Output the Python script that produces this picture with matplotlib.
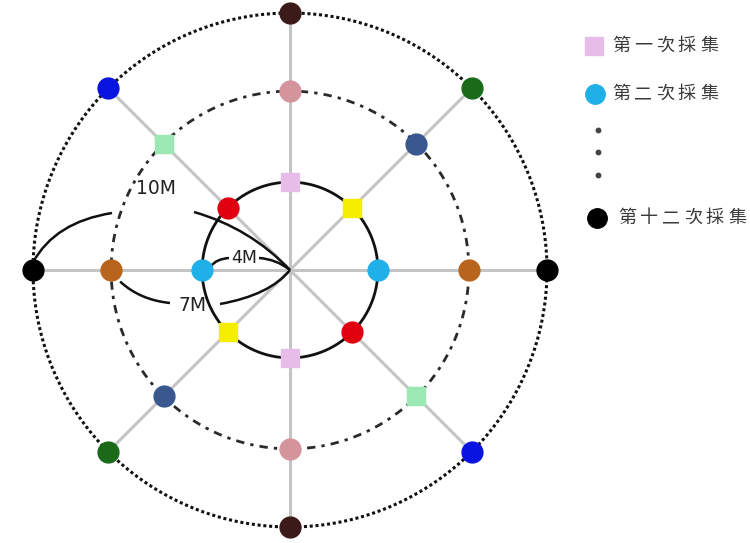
import numpy as np
import matplotlib.pyplot as plt
from matplotlib.path import Path
from matplotlib.patches import PathPatch

# ---- data ----
spoke_angles = [0, 45, 90, 135, 180, 225, 270, 315]
ring_labels = ['4M', '7M', '10M']
ring_radius = [3.42, 6.96, 10.0]          # drawn radii (outer ring = 10)
ring_styles = ['solid', 'dashdot', 'dotted']
# colour of the marker per ring for spoke angle mod 180 (0, 45, 90, 135)
inner_colors = ['#20b0e8', '#f5ee00', '#e8bce8', '#e00010']
middle_colors = ['#b8641c', '#3a5890', '#d4949c', '#9ce8b4']
outer_colors = ['#000000', '#1a6a1a', '#3c1a1a', '#0a14e0']
inner_shapes = ['o', 's', 's', 'o']
middle_shapes = ['o', 'o', 'o', 's']
outer_shapes = ['o', 'o', 'o', 'o']
legend_labels = ['第一次採集', '第二次採集', '第十二次採集']
legend_colors = ['#e8bce8', '#20b0e8', '#000000']
legend_shapes = ['s', 'o', 'o']

# ---- layout helpers ----
CX, CY, S = 290.0, 270.0, 25.7
W, H = 750, 543


def P(px, py):
    return ((px - CX) / S, (CY - py) / S)


fig = plt.figure(figsize=(7.5, 5.43), dpi=100)
ax = fig.add_axes([0, 0, 1, 1])
ax.set_xlim((0 - CX) / S, (W - CX) / S)
ax.set_ylim((CY - H) / S, (CY - 0) / S)
ax.axis('off')

R = ring_radius[-1]
# spokes
for a in spoke_angles:
    t = np.deg2rad(a)
    ax.plot([0, R * np.cos(t)], [0, R * np.sin(t)], color='#c4c4c4', lw=2.2,
            zorder=1, solid_capstyle='butt')

# rings
th = np.linspace(0, 2 * np.pi, 721)
ls_map = {'solid': dict(ls='-', lw=2.0, color='#111111'),
          'dashdot': dict(ls=(0, (3, 2.2, 1.2, 2.2)), lw=2.0, color='#2a2a2a'),
          'dotted': dict(ls=(0, (1, 0.9)), lw=2.2, color='#111111')}
for r, st in zip(ring_radius, ring_styles):
    ax.plot(r * np.cos(th), r * np.sin(th), zorder=2, **ls_map[st])

# markers
for r, cols, shapes in zip(ring_radius, [inner_colors, middle_colors, outer_colors],
                           [inner_shapes, middle_shapes, outer_shapes]):
    for a in spoke_angles:
        k = (a % 180) // 45
        t = np.deg2rad(a)
        ms = 15 if shapes[k] == 'o' else 13.5
        ax.plot(r * np.cos(t), r * np.sin(t), marker=shapes[k], ms=ms,
                color=cols[k], mec=cols[k], zorder=5, ls='none')

# annotation leader curves


def curve(p0, pc, p1):
    path = Path([p0, pc, p1], [Path.MOVETO, Path.CURVE3, Path.CURVE3])
    ax.add_patch(PathPatch(path, fill=False, ec='#111111', lw=1.8, zorder=3))


r4, r7, r10 = ring_radius
# 10M
curve((-r10, 0.3), P(55, 222), P(112, 213))
curve(P(194, 212), P(250, 228), (0, 0))
ax.text(*P(156, 188), ring_labels[2], fontsize=13.5, color='#222222',
        ha='center', va='center', zorder=6)
# 4M
curve((-r4 + 0.35, 0.15), P(216, 259), P(229, 258))
curve(P(259, 258), P(276, 259), (0, 0))
ax.text(*P(244, 258), ring_labels[0], fontsize=12.5, color='#222222',
        ha='center', va='center', zorder=6)
# 7M
curve((-r7 + 0.35, -0.45), P(140, 300), P(170, 303))
curve(P(220, 304), P(270, 295), (0, 0))
ax.text(*P(193, 305), ring_labels[1], fontsize=13.5, color='#222222',
        ha='center', va='center', zorder=6)

# legend (drawn manually)
rows_y = [46, 94, 218]
marker_x = [594, 595, 597]
text_x0 = [621, 621, 627]
for lab, col, shp, y, mx, tx in zip(legend_labels, legend_colors, legend_shapes,
                                   rows_y, marker_x, text_x0):
    ax.plot(*P(mx, y), marker=shp, ms=14 if shp == 'o' else 13, color=col,
            mec=col, ls='none', zorder=5)
    for i, ch in enumerate(lab):
        ax.text(*P(tx + i * 22.0, y), ch, fontsize=13, color='#3a3a3a',
                ha='center', va='center', fontweight='medium',
                family=['Noto Sans CJK TC', 'DejaVu Sans'])
for y in [130, 152, 175]:
    ax.plot(*P(598, y), marker='o', ms=3.2, color='#444444', ls='none')

fig.savefig('out.png', dpi=100)
